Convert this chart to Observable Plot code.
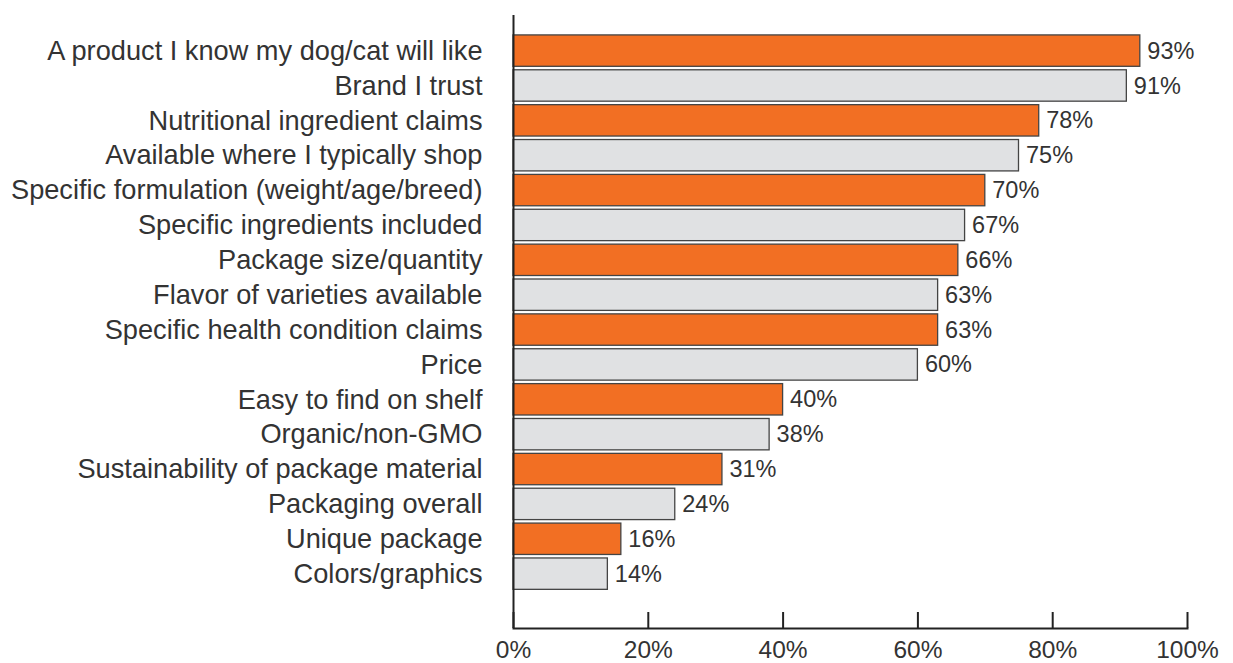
<!DOCTYPE html>
<html>
<head>
<meta charset="utf-8">
<script src="https://cdn.jsdelivr.net/npm/d3@7"></script>
<script src="https://cdn.jsdelivr.net/npm/@observablehq/plot@0.6"></script>
<style>
  html, body { margin: 0; padding: 0; background: #fff; }
  #chart svg { display: block; }
</style>
</head>
<body>
<div id="chart"></div>
<script>
const categories = [
  "A product I know my dog/cat will like",
  "Brand I trust",
  "Nutritional ingredient claims",
  "Available where I typically shop",
  "Specific formulation (weight/age/breed)",
  "Specific ingredients included",
  "Package size/quantity",
  "Flavor of varieties available",
  "Specific health condition claims",
  "Price",
  "Easy to find on shelf",
  "Organic/non-GMO",
  "Sustainability of package material",
  "Packaging overall",
  "Unique package",
  "Colors/graphics"
];
const values = [93, 91, 78, 75, 70, 67, 66, 63, 63, 60, 40, 38, 31, 24, 16, 14];
const xTicks = [0, 20, 40, 60, 80, 100];

const data = categories.map((c, i) => ({category: c, value: values[i], highlight: i % 2 === 0}));

const textColor = "#333";
const fontFamily = "'Liberation Sans', Arial, Helvetica, sans-serif";

const chart = Plot.plot({
  width: 1233,
  height: 663,
  marginLeft: 513,
  marginRight: 46,
  marginTop: 15,
  marginBottom: 35,
  style: {fontFamily, fontSize: "26px", color: textColor, background: "#fff"},
  x: {domain: [0, 100]},
  y: {domain: categories, paddingInner: 0.1, paddingOuter: 0.84, align: 0.34, round: false},
  marks: [
    Plot.barX(data, {
      y: "category",
      x: "value",
      fill: d => d.highlight ? "#F26F23" : "#E0E1E3",
      stroke: "#444",
      strokeWidth: 1.3
    }),
    Plot.text(data, {
      y: "category",
      x: "value",
      text: d => d.value + "%",
      textAnchor: "start",
      dx: 7,
      fill: textColor,
      fontSize: 23.5
    }),
    Plot.ruleX([0], {stroke: "#222", strokeWidth: 2}),
    Plot.frame({anchor: "bottom", stroke: "#222", strokeWidth: 2}),
    Plot.axisX({
      ticks: xTicks,
      tickFormat: d => d + "%",
      tickSize: -16,
      stroke: "#222",
      strokeWidth: 2,
      tickPadding: 28,
      fontSize: 24.5,
      label: null
    }),
    Plot.axisY({tickSize: 0, tickPadding: 31, fontSize: 27.2, label: null})
  ]
});

document.getElementById("chart").appendChild(chart);
</script>
</body>
</html>
